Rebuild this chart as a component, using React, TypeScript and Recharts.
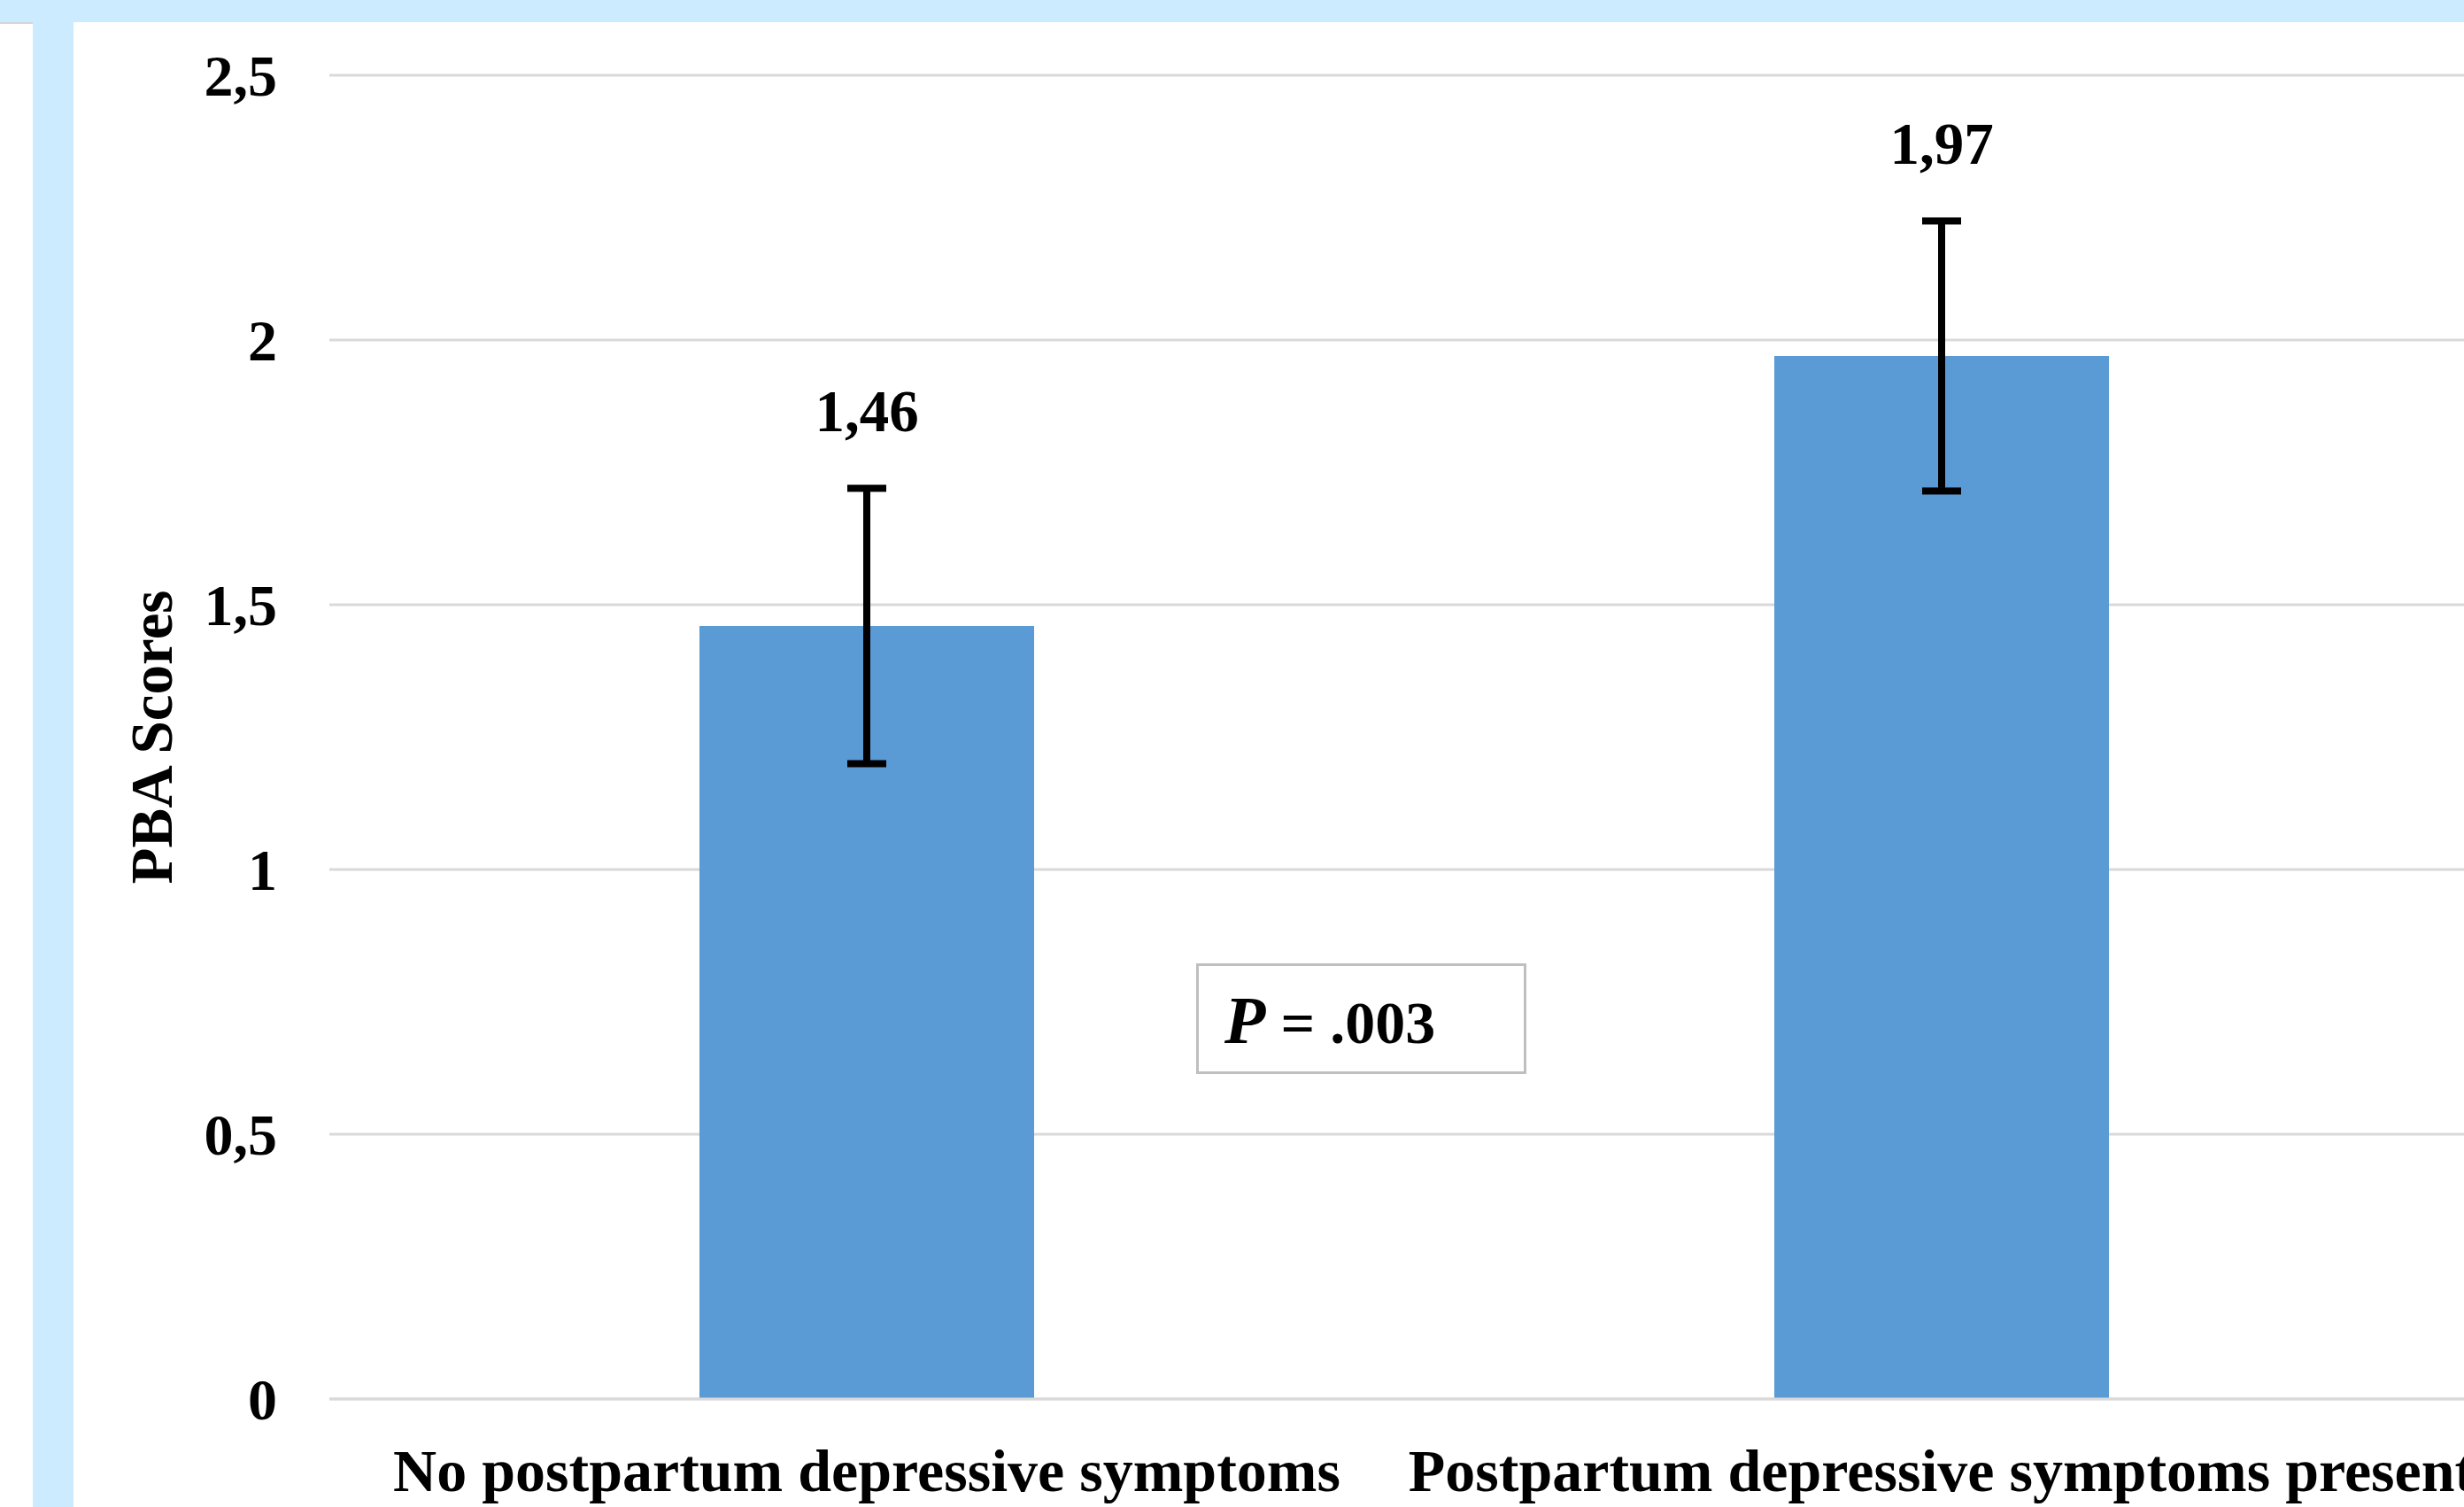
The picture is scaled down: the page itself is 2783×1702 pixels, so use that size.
import { BarChart, Bar, XAxis, YAxis, CartesianGrid, ErrorBar, LabelList } from 'recharts';

const categories = ['No postpartum depressive symptoms', 'Postpartum depressive symptoms present'];
const values = [1.46, 1.97];
const errors = [0.26, 0.255];
const yTicks = [0, 0.5, 1, 1.5, 2, 2.5];
const pValue = '.003';

const data = categories.map((name, i) => ({ name, value: values[i], err: errors[i] }));

const serif = '"Liberation Serif", "Times New Roman", serif';
const fmt = (v: number) => String(v).replace('.', ',');

function BarValueLabel(props: any) {
  const { x, y, width, height, value } = props;
  let i = props.index;
  if (i == null) i = values.indexOf(Number(value));
  const errPx = (errors[i] / values[i]) * height;
  return (
    <text
      x={x + width / 2}
      y={y - errPx - 64}
      textAnchor="middle"
      fontFamily={serif}
      fontWeight="bold"
      fontSize={67}
      fill="#000"
    >
      {fmt(value)}
    </text>
  );
}

export default function App() {
  return (
    <div
      style={{
        position: 'absolute',
        left: 0,
        top: 0,
        width: 2783,
        height: 1702,
        overflow: 'hidden',
        background: '#fff',
      }}
    >
      <div style={{ position: 'absolute', left: 0, top: 0 }}>
        <BarChart width={2800} height={1702} data={data} margin={{ top: 85, right: 0, bottom: 0, left: 0 }}>
          <CartesianGrid vertical={false} stroke="#D9D9D9" strokeWidth={3} />
          <XAxis
            dataKey="name"
            height={122}
            axisLine={{ stroke: '#D9D9D9', strokeWidth: 3 }}
            tickLine={false}
            tickSize={0}
            tickMargin={56}
            interval={0}
            tick={{ fontFamily: serif, fontWeight: 'bold', fontSize: 68, fill: '#000' }}
          />
          <YAxis
            width={372}
            domain={[0, 2.5]}
            ticks={yTicks}
            tickFormatter={fmt}
            axisLine={false}
            tickLine={false}
            tickSize={0}
            tickMargin={59}
            tick={{ fontFamily: serif, fontWeight: 'bold', fontSize: 66, fill: '#000' }}
            label={{
              value: 'PBA Scores',
              angle: -90,
              position: 'center',
              dx: -16,
              style: { fontFamily: serif, fontWeight: 'bold', fontSize: 67, fill: '#000' },
            }}
          />
          <Bar dataKey="value" fill="#5B9BD5" barSize={378} isAnimationActive={false}>
            <ErrorBar dataKey="err" width={22} strokeWidth={8} stroke="#000" isAnimationActive={false} />
            <LabelList dataKey="value" content={BarValueLabel} />
          </Bar>
        </BarChart>
      </div>

      <div
        style={{
          position: 'absolute',
          left: 1351,
          top: 1088,
          width: 373,
          height: 125,
          border: '3px solid #BFBFBF',
          boxSizing: 'border-box',
          background: '#fff',
        }}
      >
        <svg width={373} height={125} style={{ position: 'absolute', left: -3, top: -3 }}>
          <text x={32} y={90} fontFamily={serif} fontWeight="bold" fill="#000">
            <tspan fontStyle="italic" fontSize={76}>P</tspan>
            <tspan fontSize={68}>{` = ${pValue}`}</tspan>
          </text>
        </svg>
      </div>

      <div style={{ position: 'absolute', left: 0, top: 0, width: 2783, height: 25, background: '#CCEBFE' }} />
      <div style={{ position: 'absolute', left: 0, top: 25, width: 37, height: 2, background: '#D6D6D6' }} />
      <div style={{ position: 'absolute', left: 37, top: 0, width: 46, height: 1702, background: '#CCEBFE' }} />
    </div>
  );
}
